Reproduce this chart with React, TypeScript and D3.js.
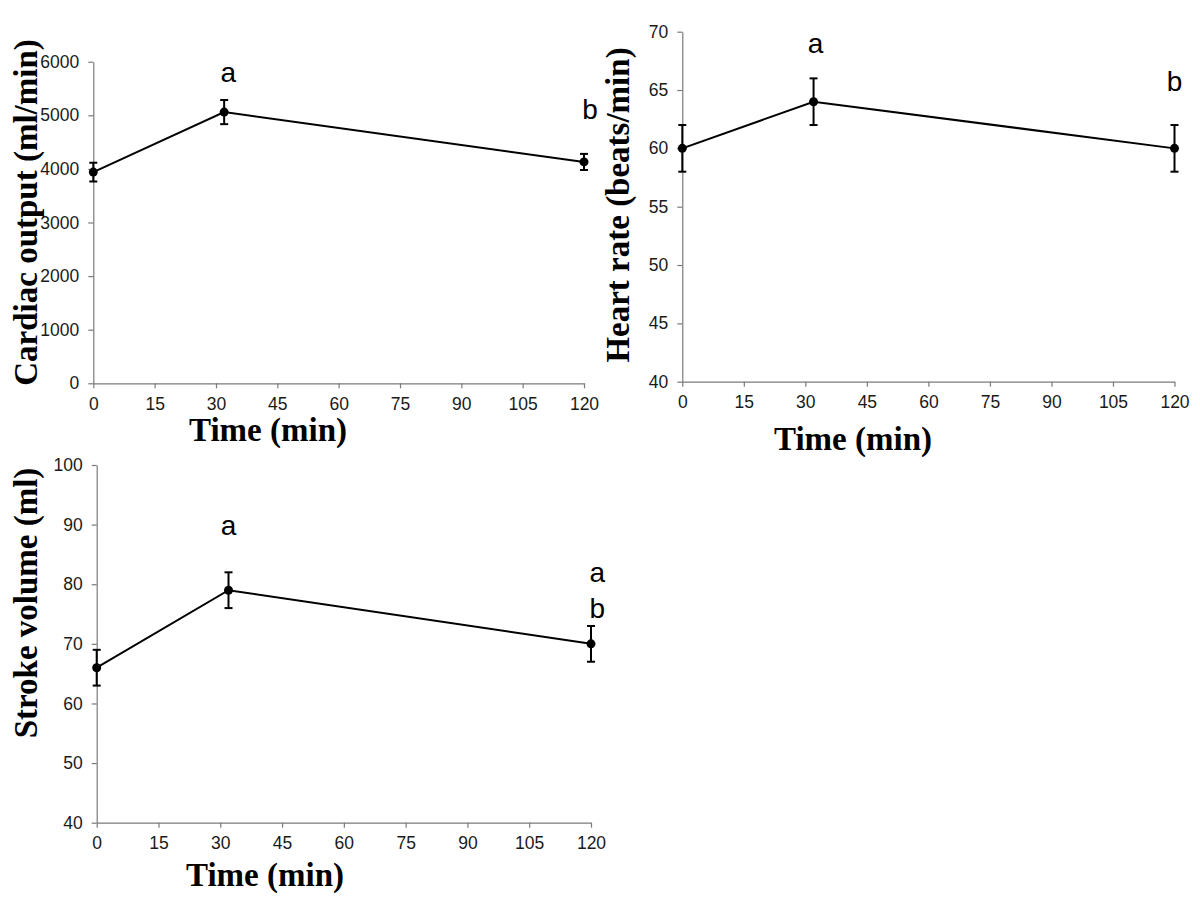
import React, { useEffect, useRef } from "react";
import * as d3 from "d3";

const timePoints = [0, 32, 120];
const xTicks = [0, 15, 30, 45, 60, 75, 90, 105, 120];

const cardiacOutput = [3940, 5060, 4130];
const cardiacOutputErr = [175, 225, 150];
const cardiacTicks = [0, 1000, 2000, 3000, 4000, 5000, 6000];
const cardiacLetters = [
  { t: 33, v: 5627, text: "a" },
  { t: 121.5, v: 4925, text: "b" },
];

const heartRate = [60, 64, 60];
const heartRateErr = [2, 2, 2];
const heartTicks = [40, 45, 50, 55, 60, 65, 70];
const heartLetters = [
  { t: 32.5, v: 68.2, text: "a" },
  { t: 120, v: 64.9, text: "b" },
];

const strokeVolume = [66, 79, 70];
const strokeVolumeErr = [3, 3, 3];
const strokeTicks = [40, 50, 60, 70, 80, 90, 100];
const strokeLetters = [
  { t: 32, v: 88.3, text: "a" },
  { t: 121.5, v: 80.4, text: "a" },
  { t: 121.5, v: 74.4, text: "b" },
];

type Panel = {
  values: number[];
  errs: number[];
  yTicks: number[];
  letters: { t: number; v: number; text: string }[];
  yTitle: string;
  box: { left: number; right: number; top: number; bottom: number };
  yTitleX: number;
  yTitleY: number;
  xTitleX: number;
  xTitleY: number;
};

const panels: Panel[] = [
  {
    values: cardiacOutput,
    errs: cardiacOutputErr,
    yTicks: cardiacTicks,
    letters: cardiacLetters,
    yTitle: "Cardiac output (ml/min)",
    box: { left: 93.3, right: 584, top: 61.7, bottom: 383.3 },
    yTitleX: 37,
    yTitleY: 212.5,
    xTitleX: 268,
    xTitleY: 441,
  },
  {
    values: heartRate,
    errs: heartRateErr,
    yTicks: heartTicks,
    letters: heartLetters,
    yTitle: "Heart rate (beats/min)",
    box: { left: 682.3, right: 1174.5, top: 31.7, bottom: 381.7 },
    yTitleX: 629,
    yTitleY: 205,
    xTitleX: 853,
    xTitleY: 450,
  },
  {
    values: strokeVolume,
    errs: strokeVolumeErr,
    yTicks: strokeTicks,
    letters: strokeLetters,
    yTitle: "Stroke volume (ml)",
    box: { left: 96.7, right: 591, top: 465, bottom: 822.7 },
    yTitleX: 37,
    yTitleY: 603,
    xTitleX: 265,
    xTitleY: 886,
  },
];

const AXIS_COLOR = "#7a7a7a";
const TEXT_COLOR = "#1a1a1a";
const SANS = "Arial, 'Liberation Sans', sans-serif";
const SERIF = "'Times New Roman', 'Liberation Serif', serif";

export default function App() {
  const ref = useRef<SVGSVGElement | null>(null);

  useEffect(() => {
    const svg = d3.select(ref.current);
    svg.selectAll("*").remove();

    panels.forEach((p) => {
      const x = d3
        .scaleLinear()
        .domain([0, 120])
        .range([p.box.left, p.box.right]);
      const y = d3
        .scaleLinear()
        .domain([p.yTicks[0], p.yTicks[p.yTicks.length - 1]])
        .range([p.box.bottom, p.box.top]);

      const g = svg.append("g");

      // x axis
      const xAxis = g
        .append("g")
        .attr("transform", `translate(0,${p.box.bottom})`)
        .call(
          d3
            .axisBottom(x)
            .tickValues(xTicks)
            .tickFormat(d3.format("d"))
            .tickSize(5)
            .tickPadding(9)
            .tickSizeOuter(0)
        );
      xAxis.select(".domain").attr("stroke", AXIS_COLOR).attr("stroke-width", 1.2);
      xAxis.selectAll(".tick line").attr("stroke", AXIS_COLOR).attr("stroke-width", 1.2);
      xAxis
        .selectAll(".tick text")
        .attr("fill", TEXT_COLOR)
        .attr("font-family", SANS)
        .attr("font-size", 17.5);

      // y axis
      const yAxis = g
        .append("g")
        .attr("transform", `translate(${p.box.left},0)`)
        .call(
          d3
            .axisLeft(y)
            .tickValues(p.yTicks)
            .tickFormat(d3.format("d"))
            .tickSize(5)
            .tickPadding(9)
            .tickSizeOuter(0)
        );
      yAxis.select(".domain").attr("stroke", AXIS_COLOR).attr("stroke-width", 1.2);
      yAxis.selectAll(".tick line").attr("stroke", AXIS_COLOR).attr("stroke-width", 1.2);
      yAxis
        .selectAll(".tick text")
        .attr("fill", TEXT_COLOR)
        .attr("font-family", SANS)
        .attr("font-size", 17.5);

      // line
      const pts = timePoints.map((t, i) => [t, p.values[i]] as [number, number]);
      g.append("path")
        .attr(
          "d",
          d3
            .line<[number, number]>()
            .x((d) => x(d[0]))
            .y((d) => y(d[1]))(pts)
        )
        .attr("fill", "none")
        .attr("stroke", "#000")
        .attr("stroke-width", 2);

      // error bars
      const capHalf = 4;
      timePoints.forEach((t, i) => {
        const cx = x(t);
        const yt = y(p.values[i] + p.errs[i]);
        const yb = y(p.values[i] - p.errs[i]);
        g.append("line")
          .attr("x1", cx)
          .attr("x2", cx)
          .attr("y1", yt)
          .attr("y2", yb)
          .attr("stroke", "#000")
          .attr("stroke-width", 2);
        [yt, yb].forEach((yy) =>
          g
            .append("line")
            .attr("x1", cx - capHalf)
            .attr("x2", cx + capHalf)
            .attr("y1", yy)
            .attr("y2", yy)
            .attr("stroke", "#000")
            .attr("stroke-width", 2)
        );
        g.append("circle")
          .attr("cx", cx)
          .attr("cy", y(p.values[i]))
          .attr("r", 4.5)
          .attr("fill", "#000");
      });

      // significance letters
      p.letters.forEach((l) => {
        g.append("text")
          .attr("x", x(l.t))
          .attr("y", y(l.v))
          .attr("text-anchor", "middle")
          .attr("font-family", SANS)
          .attr("font-size", 28)
          .attr("fill", "#000")
          .text(l.text);
      });

      // y title
      g.append("text")
        .attr("transform", `translate(${p.yTitleX},${p.yTitleY}) rotate(-90)`)
        .attr("text-anchor", "middle")
        .attr("font-family", SERIF)
        .attr("font-weight", "bold")
        .attr("font-size", 33)
        .attr("fill", "#000")
        .text(p.yTitle);

      // x title
      g.append("text")
        .attr("x", p.xTitleX)
        .attr("y", p.xTitleY)
        .attr("text-anchor", "middle")
        .attr("font-family", SERIF)
        .attr("font-weight", "bold")
        .attr("font-size", 33)
        .attr("fill", "#000")
        .text("Time (min)");
    });
  }, []);

  return (
    <svg
      ref={ref}
      width={1200}
      height={900}
      style={{ position: "absolute", left: 0, top: 0, background: "#fff" }}
    />
  );
}
